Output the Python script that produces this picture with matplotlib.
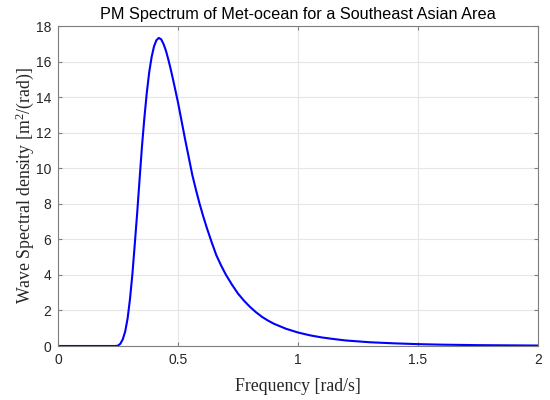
import numpy as np
import matplotlib
matplotlib.use("Agg")
import matplotlib.pyplot as plt

plt.rcParams["mathtext.fontset"] = "custom"
plt.rcParams["mathtext.rm"] = "Liberation Serif"
plt.rcParams["mathtext.it"] = "Liberation Serif:italic"

# PM spectrum values
freq = [0.0, 0.2, 0.24, 0.25, 0.26, 0.27, 0.28, 0.29, 0.30, 0.31, 0.32, 0.33,
        0.34, 0.35, 0.36, 0.37, 0.38, 0.39, 0.40, 0.41, 0.42, 0.43, 0.44, 0.45,
        0.46, 0.47, 0.48, 0.49, 0.50, 0.515, 0.53, 0.545, 0.56, 0.575, 0.59,
        0.605, 0.62, 0.64, 0.66, 0.68, 0.70, 0.725, 0.75, 0.775, 0.80, 0.825,
        0.85, 0.875, 0.90, 0.95, 1.00, 1.05, 1.10, 1.15, 1.20, 1.30, 1.40,
        1.50, 1.60, 1.75, 2.00]
density = [0.0, 0.0, 0.0, 0.02, 0.13, 0.38, 0.82, 1.55, 2.65, 4.05, 5.75, 7.5,
           9.4, 11.25, 12.85, 14.25, 15.4, 16.25, 16.85, 17.2, 17.33, 17.25, 16.98, 16.6,
           16.1, 15.55, 14.95, 14.33, 13.7, 12.65, 11.6, 10.6, 9.6, 8.78, 8.0,
           7.3, 6.65, 5.85, 5.1, 4.52, 4.0, 3.45, 2.95, 2.55, 2.2, 1.9,
           1.64, 1.43, 1.25, 0.97, 0.76, 0.6, 0.48, 0.39, 0.31, 0.21, 0.15,
           0.105, 0.075, 0.048, 0.026]

xticks = [0, 0.5, 1, 1.5, 2]
yticks = [0, 2, 4, 6, 8, 10, 12, 14, 16, 18]

fig = plt.figure(figsize=(5.5, 4), dpi=100)
ax = fig.add_axes([0.1055, 0.135, 0.8725, 0.80])

ax.plot(freq, density, color=(0, 0, 1), linewidth=1.5)

ax.set_xlim(0, 2)
ax.set_ylim(0, 18)
ax.set_xticks(xticks)
ax.set_xticklabels(["0", "0.5", "1", "1.5", "2"])
ax.set_yticks(yticks)

ax.grid(True, color="#e6e6e6", linewidth=0.8)
ax.set_axisbelow(True)
for s in ax.spines.values():
    s.set_color("#7f7f7f")
    s.set_linewidth(0.8)
ax.tick_params(direction="in", top=True, right=True, length=3, color="#7f7f7f",
               labelsize=10, labelcolor="#262626", pad=5)
for lab in ax.get_xticklabels() + ax.get_yticklabels():
    lab.set_family("Liberation Sans")

ax.set_title("PM Spectrum of Met-ocean for a Southeast Asian Area",
             family="Liberation Sans", fontsize=11.7, color="#000000", pad=5)
ax.set_xlabel("Frequency [rad/s]", family="Liberation Serif", fontsize=12.8,
              color="#262626", labelpad=8)
ax.set_ylabel("Wave Spectral density [m$^{2}$/(rad)]", family="Liberation Serif",
              fontsize=12.8, color="#262626", labelpad=0)

fig.savefig("out.png", dpi=100)
